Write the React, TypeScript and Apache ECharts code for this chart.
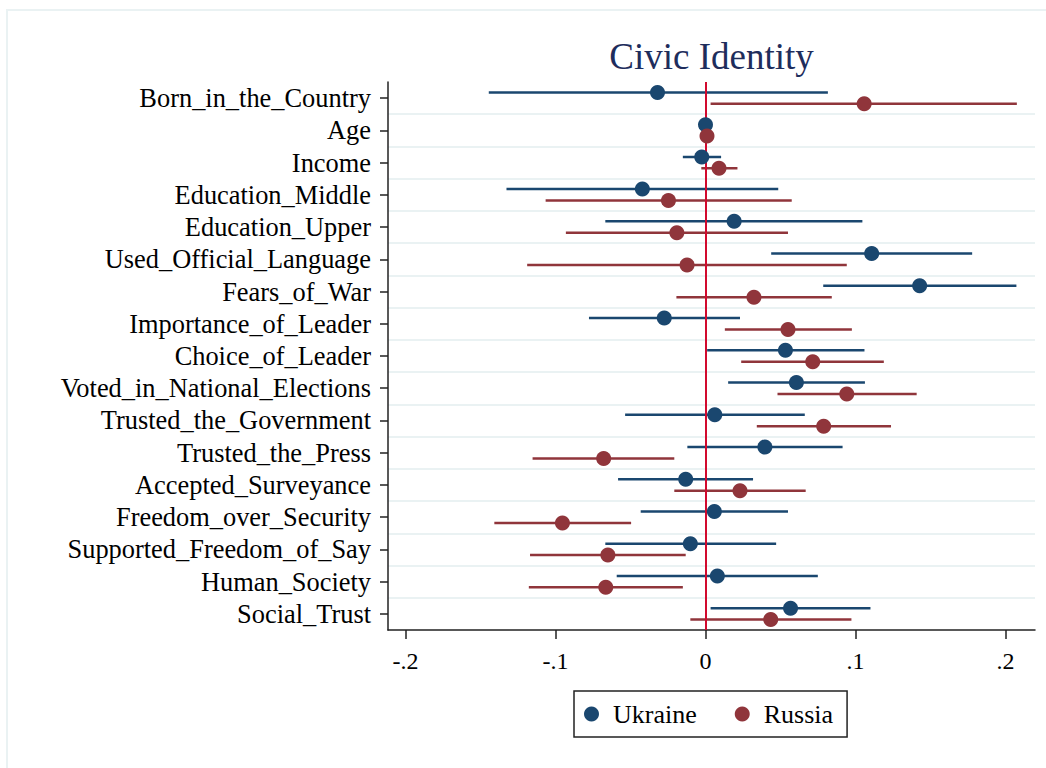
import React, { useEffect, useRef } from "react";
import * as echarts from "echarts";

const categories = [
  "Born_in_the_Country",
  "Age",
  "Income",
  "Education_Middle",
  "Education_Upper",
  "Used_Official_Language",
  "Fears_of_War",
  "Importance_of_Leader",
  "Choice_of_Leader",
  "Voted_in_National_Elections",
  "Trusted_the_Government",
  "Trusted_the_Press",
  "Accepted_Surveyance",
  "Freedom_over_Security",
  "Supported_Freedom_of_Say",
  "Human_Society",
  "Social_Trust",
];

const ukraineEst = [-0.032, 0.0, -0.0025, -0.0421, 0.0191, 0.1108, 0.1428, -0.0275, 0.0533, 0.0606, 0.0062, 0.0396, -0.0132, 0.0059, -0.0101, 0.0079, 0.0567];
const ukraineLo = [-0.1445, -0.001, -0.0151, -0.1327, -0.0668, 0.0438, 0.0785, -0.0777, 0.0011, 0.0151, -0.0536, -0.0121, -0.0583, -0.0432, -0.0668, -0.0592, 0.0034];
const ukraineHi = [0.0816, 0.001, 0.0104, 0.0485, 0.1046, 0.1778, 0.2073, 0.023, 0.106, 0.1063, 0.0662, 0.0914, 0.0317, 0.055, 0.0471, 0.0749, 0.11];

const russiaEst = [0.1058, 0.001, 0.009, -0.0247, -0.0191, -0.0123, 0.0323, 0.055, 0.0715, 0.0942, 0.0788, -0.0679, 0.023, -0.0954, -0.0651, -0.0665, 0.0435];
const russiaLo = [0.0034, 0.0, -0.0028, -0.1066, -0.0931, -0.1189, -0.0194, 0.0129, 0.0238, 0.048, 0.0342, -0.1153, -0.0208, -0.1408, -0.117, -0.1178, -0.0101];
const russiaHi = [0.2076, 0.002, 0.0213, 0.0575, 0.055, 0.0942, 0.0842, 0.0976, 0.1189, 0.1408, 0.1237, -0.0208, 0.0668, -0.0496, -0.0132, -0.0151, 0.0973];

const xTicks = [-0.2, -0.1, 0, 0.1, 0.2];
const xMin = -0.2117;
const xMax = 0.2197;
const referenceX = 0;

const UKR = "#1a476f";
const RUS = "#90353b";
const FONT = "'Liberation Serif', 'Times New Roman', serif";

function fmtTick(v: number): string {
  if (v === 0) return "0";
  const s = String(Math.abs(v)).replace(/^0/, "");
  return (v < 0 ? "-" : "") + s;
}

function ciSeries(name: string, lo: number[], hi: number[], color: string, offsetRatio: number) {
  return {
    type: "custom",
    name,
    z: 2,
    silent: true,
    encode: { x: [1, 2], y: 0 },
    data: lo.map((l, i) => [i, l, hi[i]]),
    renderItem: (params: any, api: any) => {
      const cat = api.value(0);
      const p1 = api.coord([api.value(1), cat]);
      const p2 = api.coord([api.value(2), cat]);
      const off = api.size([0, 1])[1] * offsetRatio;
      return {
        type: "line",
        shape: { x1: p1[0], y1: p1[1] + off, x2: p2[0], y2: p2[1] + off },
        style: { stroke: color, lineWidth: 2.5 },
      };
    },
  };
}

function dotSeries(name: string, est: number[], color: string, offsetRatio: number) {
  return {
    type: "custom",
    name,
    z: 10,
    itemStyle: { color },
    encode: { x: 1, y: 0 },
    data: est.map((v, i) => [i, v]),
    renderItem: (params: any, api: any) => {
      const p = api.coord([api.value(1), api.value(0)]);
      const off = api.size([0, 1])[1] * offsetRatio;
      return {
        type: "circle",
        shape: { cx: p[0], cy: p[1] + off, r: 7.5 },
        style: { fill: color },
      };
    },
  };
}

export default function App() {
  const ref = useRef<HTMLDivElement>(null);

  useEffect(() => {
    document.body.style.margin = "0";
    if (!ref.current) return;
    const chart = echarts.init(ref.current, null, { renderer: "svg" });
    const option: any = {
      animation: false,
      backgroundColor: "#ffffff",
      title: {
        text: "Civic Identity",
        left: 711.5,
        top: 38,
        textAlign: "center",
        padding: 0,
        textStyle: {
          fontFamily: FONT,
          fontWeight: "normal",
          fontSize: 37,
          color: "#1e2d5c",
        },
      },
      graphic: [
        {
          type: "rect",
          silent: true,
          z: -10,
          shape: { x: 7, y: 10, width: 1200, height: 900 },
          style: { fill: "none", stroke: "#eaf2f3", lineWidth: 2 },
        },
      ],
      legend: {
        left: 574,
        top: 691,
        orient: "horizontal",
        padding: [10, 14, 10, 10],
        itemGap: 38,
        itemWidth: 15,
        itemHeight: 15,
        borderColor: "#222",
        borderWidth: 1.5,
        textStyle: {
          fontFamily: FONT,
          fontSize: 26,
          color: "#000",
          padding: [0, 0, 0, 9],
        },
        data: [
          { name: "Ukraine", icon: "circle", itemStyle: { color: UKR } },
          { name: "Russia", icon: "circle", itemStyle: { color: RUS } },
        ],
      },
      grid: {
        left: 388,
        right: 11,
        top: 82,
        bottom: 138,
        containLabel: false,
      },
      xAxis: {
        type: "value",
        min: xMin,
        max: xMax,
        axisLine: { show: true, onZero: false, lineStyle: { color: "#222", width: 1.5 } },
        axisTick: {
          show: true,
          length: 9,
          customValues: xTicks,
          lineStyle: { color: "#222", width: 1.5 },
        },
        axisLabel: {
          customValues: xTicks,
          formatter: (v: number) => fmtTick(v),
          fontFamily: FONT,
          fontSize: 24,
          color: "#000",
          margin: 19,
        },
        splitLine: { show: false },
      },
      yAxis: {
        type: "category",
        inverse: true,
        data: categories,
        axisLine: { show: true, onZero: false, lineStyle: { color: "#222", width: 1.5 } },
        axisTick: {
          show: true,
          alignWithLabel: true,
          length: 8,
          lineStyle: { color: "#222", width: 1.5 },
        },
        axisLabel: {
          fontFamily: FONT,
          fontSize: 26.4,
          color: "#000",
          margin: 17,
          interval: 0,
        },
        splitLine: {
          show: true,
          showMinLine: false,
          showMaxLine: false,
          lineStyle: { color: "#eaf2f3", width: 2 },
        },
      },
      series: [
        ciSeries("Ukraine CI", ukraineLo, ukraineHi, UKR, -0.177),
        ciSeries("Russia CI", russiaLo, russiaHi, RUS, 0.177),
        {
          type: "line",
          name: "zero",
          data: [],
          silent: true,
          z: 5,
          markLine: {
            silent: true,
            symbol: "none",
            z: 5,
            label: { show: false },
            lineStyle: { color: "#d20a2e", width: 2, type: "solid" },
            data: [{ xAxis: referenceX }],
          },
        },
        dotSeries("Ukraine", ukraineEst, UKR, -0.177),
        dotSeries("Russia", russiaEst, RUS, 0.177),
      ],
    };
    chart.setOption(option);
    return () => chart.dispose();
  }, []);

  return <div ref={ref} style={{ width: 1046, height: 768 }} />;
}
